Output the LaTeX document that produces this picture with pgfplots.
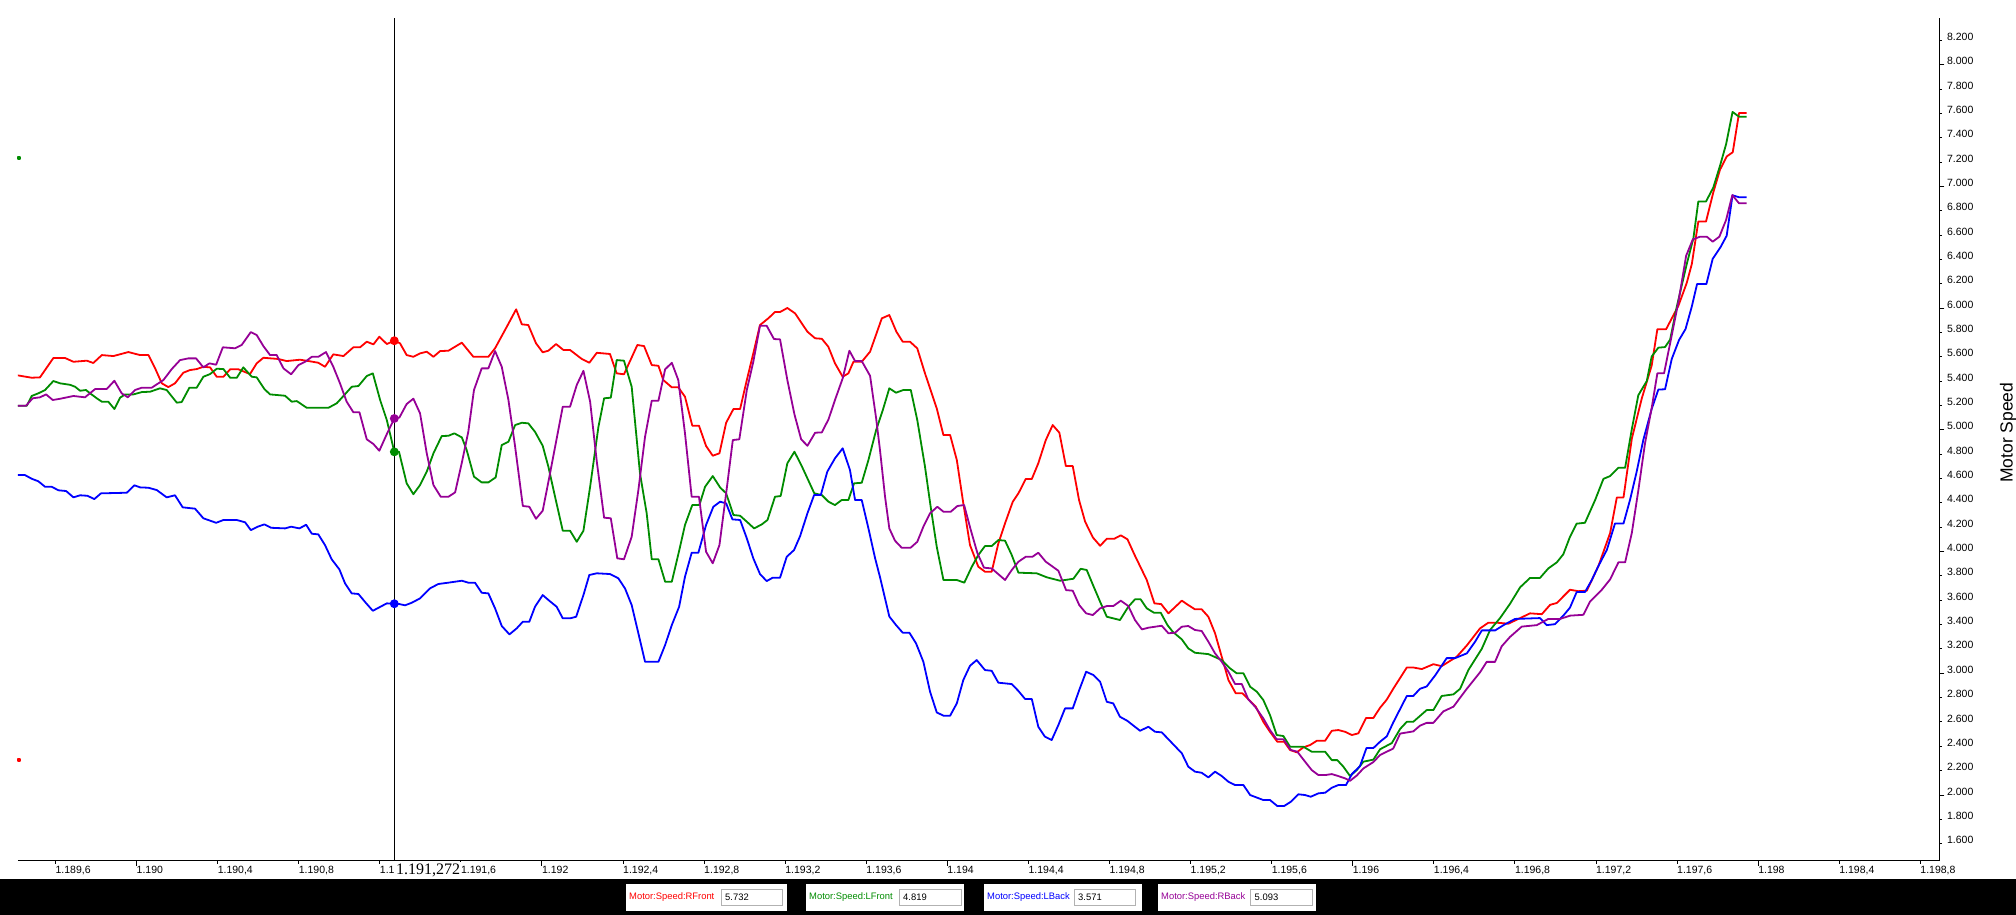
\documentclass[border=0pt]{standalone}
\usepackage{fontspec}
\setmainfont{Liberation Sans}
\newfontfamily\cursorfont{Liberation Serif}
\usepackage{pgfplots}
\pgfplotsset{compat=1.18}
\definecolor{cRed}{RGB}{255,0,0}
\definecolor{cGreen}{RGB}{0,140,0}
\definecolor{cBlue}{RGB}{0,0,255}
\definecolor{cPurple}{RGB}{150,0,150}
\begin{document}
\begin{tikzpicture}[x=1pt,y=1pt]
\useasboundingbox (0,0) rectangle (2016,915);
\fill[white] (0,0) rectangle (2016,915);
\begin{axis}[
  at={(17.9pt,54pt)}, anchor=south west, scale only axis,
  width=1921.4pt, height=843pt,
  xmin=1189.415, xmax=1198.894, ymin=1457, ymax=8384,
  axis x line=bottom, axis y line=right,
  every outer x axis line/.append style={-},
  every outer y axis line/.append style={-},
  every inner x axis line/.append style={-},
  every inner y axis line/.append style={-},
  axis line style={black, line width=1pt, -},
  tick align=outside, major tick length=2.6pt,
  tick style={black, line width=0.8pt},
  xtick={1189.6,1190,1190.4,1190.8,1191.2,1191.6,1192,1192.4,1192.8,1193.2,1193.6,1194,1194.4,1194.8,1195.2,1195.6,1196,1196.4,1196.8,1197.2,1197.6,1198,1198.4,1198.8},
  xticklabels={{1.189,6},{1.190},{1.190,4},{1.190,8},{1.191,2},{1.191,6},{1.192},{1.192,4},{1.192,8},{1.193,2},{1.193,6},{1.194},{1.194,4},{1.194,8},{1.195,2},{1.195,6},{1.196},{1.196,4},{1.196,8},{1.197,2},{1.197,6},{1.198},{1.198,4},{1.198,8}},
  ytick={1600,1800,2000,2200,2400,2600,2800,3000,3200,3400,3600,3800,4000,4200,4400,4600,4800,5000,5200,5400,5600,5800,6000,6200,6400,6600,6800,7000,7200,7400,7600,7800,8000,8200},
  yticklabels={1.600,1.800,2.000,2.200,2.400,2.600,2.800,3.000,3.200,3.400,3.600,3.800,4.000,4.200,4.400,4.600,4.800,5.000,5.200,5.400,5.600,5.800,6.000,6.200,6.400,6.600,6.800,7.000,7.200,7.400,7.600,7.800,8.000,8.200},
  extra x ticks={1190,1192,1194,1196,1198}, extra x tick labels={},
  extra x tick style={major tick length=5pt},
  extra y ticks={2000,3000,4000,5000,6000,7000,8000}, extra y tick labels={},
  extra y tick style={major tick length=5pt},
  ticklabel style={font=\fontsize{10.5}{12}\selectfont, text=black},
  xticklabel style={anchor=north west, inner sep=0pt, yshift=-2pt},
  yticklabel style={anchor=west, inner sep=0pt, xshift=5pt, yshift=3.5pt},
  every axis plot/.append style={line width=1.8pt, line join=round},
]
\addplot[cRed, mark=none] coordinates {(1189.412,5448)(1189.483,5428)(1189.524,5431)(1189.590,5590)(1189.648,5590)(1189.689,5559)(1189.755,5568)(1189.787,5549)(1189.829,5614)(1189.886,5606)(1189.960,5639)(1190.018,5614)(1190.059,5614)(1190.092,5505)(1190.125,5382)(1190.157,5351)(1190.190,5382)(1190.231,5469)(1190.264,5491)(1190.297,5499)(1190.330,5518)(1190.363,5513)(1190.396,5436)(1190.429,5436)(1190.462,5497)(1190.503,5497)(1190.560,5458)(1190.593,5546)(1190.626,5592)(1190.700,5582)(1190.741,5565)(1190.807,5576)(1190.856,5563)(1190.897,5551)(1190.930,5518)(1190.971,5620)(1191.021,5606)(1191.070,5678)(1191.103,5678)(1191.136,5724)(1191.169,5702)(1191.198,5765)(1191.235,5705)(1191.272,5732)(1191.300,5711)(1191.333,5614)(1191.366,5600)(1191.399,5628)(1191.432,5642)(1191.465,5600)(1191.498,5647)(1191.539,5650)(1191.605,5716)(1191.662,5600)(1191.736,5600)(1191.769,5670)(1191.827,5847)(1191.873,5990)(1191.901,5867)(1191.933,5861)(1191.971,5711)(1192.004,5637)(1192.032,5650)(1192.070,5705)(1192.106,5656)(1192.139,5656)(1192.197,5582)(1192.234,5551)(1192.271,5633)(1192.336,5623)(1192.369,5464)(1192.405,5456)(1192.471,5697)(1192.504,5688)(1192.542,5532)(1192.575,5526)(1192.599,5409)(1192.641,5349)(1192.673,5349)(1192.706,5272)(1192.742,5034)(1192.775,5034)(1192.810,4867)(1192.843,4787)(1192.876,4807)(1192.909,5058)(1192.945,5171)(1192.978,5171)(1193.011,5409)(1193.043,5628)(1193.076,5861)(1193.117,5916)(1193.150,5968)(1193.175,5968)(1193.211,6001)(1193.249,5957)(1193.310,5806)(1193.348,5752)(1193.381,5748)(1193.413,5683)(1193.446,5546)(1193.484,5436)(1193.512,5464)(1193.537,5559)(1193.578,5559)(1193.619,5642)(1193.677,5916)(1193.714,5943)(1193.749,5806)(1193.780,5724)(1193.816,5724)(1193.852,5669)(1193.890,5464)(1193.948,5176)(1193.981,4957)(1194.014,4957)(1194.047,4752)(1194.079,4396)(1194.112,4053)(1194.153,3875)(1194.186,3834)(1194.219,3834)(1194.252,4067)(1194.285,4232)(1194.323,4409)(1194.351,4478)(1194.387,4596)(1194.417,4596)(1194.449,4725)(1194.486,4916)(1194.520,5039)(1194.553,4976)(1194.585,4702)(1194.619,4702)(1194.650,4423)(1194.680,4245)(1194.718,4116)(1194.754,4047)(1194.787,4105)(1194.824,4105)(1194.856,4133)(1194.889,4100)(1194.922,3979)(1194.984,3766)(1195.022,3574)(1195.055,3568)(1195.091,3492)(1195.157,3596)(1195.189,3560)(1195.222,3525)(1195.255,3525)(1195.288,3464)(1195.321,3328)(1195.354,3135)(1195.387,2944)(1195.423,2835)(1195.456,2835)(1195.489,2780)(1195.522,2724)(1195.559,2601)(1195.592,2519)(1195.628,2437)(1195.662,2437)(1195.691,2369)(1195.724,2350)(1195.757,2391)(1195.790,2410)(1195.823,2445)(1195.864,2445)(1195.897,2527)(1195.929,2533)(1195.962,2519)(1195.996,2492)(1196.028,2506)(1196.066,2632)(1196.102,2632)(1196.135,2716)(1196.168,2783)(1196.200,2872)(1196.267,3047)(1196.299,3047)(1196.341,3034)(1196.398,3074)(1196.439,3058)(1196.513,3135)(1196.563,3228)(1196.628,3368)(1196.669,3415)(1196.711,3415)(1196.768,3407)(1196.826,3453)(1196.875,3492)(1196.933,3485)(1196.974,3562)(1197.007,3577)(1197.072,3686)(1197.113,3674)(1197.155,3678)(1197.212,3880)(1197.270,4152)(1197.303,4444)(1197.336,4444)(1197.377,4927)(1197.426,5257)(1197.475,5528)(1197.503,5826)(1197.546,5826)(1197.607,6020)(1197.648,6207)(1197.673,6362)(1197.705,6711)(1197.743,6711)(1197.779,6951)(1197.812,7137)(1197.845,7246)(1197.875,7281)(1197.906,7603)(1197.944,7603)};
\addplot[cGreen, mark=none] coordinates {(1189.412,5198)(1189.459,5198)(1189.483,5278)(1189.516,5300)(1189.549,5327)(1189.590,5401)(1189.623,5382)(1189.672,5370)(1189.697,5354)(1189.722,5321)(1189.751,5327)(1189.771,5300)(1189.804,5259)(1189.829,5231)(1189.861,5231)(1189.891,5171)(1189.919,5264)(1189.944,5291)(1189.985,5291)(1190.026,5310)(1190.067,5313)(1190.116,5341)(1190.149,5327)(1190.199,5223)(1190.223,5228)(1190.261,5346)(1190.297,5346)(1190.330,5436)(1190.363,5458)(1190.396,5502)(1190.429,5499)(1190.462,5428)(1190.495,5428)(1190.527,5513)(1190.569,5436)(1190.593,5431)(1190.631,5335)(1190.659,5291)(1190.733,5280)(1190.766,5231)(1190.791,5236)(1190.840,5181)(1190.947,5181)(1190.988,5218)(1191.021,5278)(1191.062,5354)(1191.095,5360)(1191.136,5442)(1191.166,5464)(1191.202,5245)(1191.235,5080)(1191.272,4819)(1191.295,4820)(1191.333,4560)(1191.366,4471)(1191.399,4546)(1191.432,4656)(1191.465,4807)(1191.506,4949)(1191.539,4951)(1191.568,4971)(1191.605,4938)(1191.629,4834)(1191.665,4615)(1191.703,4568)(1191.736,4568)(1191.772,4609)(1191.802,4875)(1191.835,4902)(1191.868,5039)(1191.901,5058)(1191.933,5053)(1191.966,4984)(1192.004,4869)(1192.032,4697)(1192.065,4450)(1192.103,4171)(1192.139,4171)(1192.172,4080)(1192.205,4171)(1192.238,4532)(1192.279,5025)(1192.307,5259)(1192.340,5264)(1192.369,5573)(1192.405,5568)(1192.443,5354)(1192.484,4642)(1192.517,4314)(1192.542,3936)(1192.575,3936)(1192.608,3752)(1192.641,3752)(1192.678,4012)(1192.706,4218)(1192.742,4382)(1192.777,4382)(1192.805,4532)(1192.843,4620)(1192.879,4527)(1192.909,4478)(1192.945,4300)(1192.978,4294)(1193.011,4245)(1193.047,4190)(1193.085,4223)(1193.113,4259)(1193.150,4450)(1193.178,4456)(1193.211,4725)(1193.246,4820)(1193.282,4702)(1193.344,4478)(1193.381,4464)(1193.414,4409)(1193.446,4382)(1193.479,4423)(1193.512,4423)(1193.540,4560)(1193.578,4565)(1193.611,4752)(1193.649,4998)(1193.682,5163)(1193.714,5341)(1193.747,5305)(1193.783,5327)(1193.820,5327)(1193.852,5080)(1193.890,4697)(1193.918,4368)(1193.948,4039)(1193.981,3766)(1194.047,3766)(1194.084,3744)(1194.121,3875)(1194.153,3971)(1194.186,4045)(1194.219,4045)(1194.252,4094)(1194.285,4089)(1194.318,3971)(1194.351,3826)(1194.441,3821)(1194.491,3788)(1194.556,3760)(1194.622,3776)(1194.658,3858)(1194.688,3848)(1194.721,3716)(1194.754,3587)(1194.787,3464)(1194.852,3437)(1194.893,3546)(1194.926,3607)(1194.954,3607)(1194.984,3533)(1195.020,3497)(1195.053,3497)(1195.086,3396)(1195.112,3341)(1195.157,3278)(1195.189,3204)(1195.222,3168)(1195.288,3157)(1195.354,3108)(1195.395,3040)(1195.428,2999)(1195.461,2999)(1195.494,2889)(1195.527,2848)(1195.559,2780)(1195.592,2656)(1195.625,2492)(1195.658,2484)(1195.691,2396)(1195.757,2396)(1195.798,2355)(1195.864,2355)(1195.897,2286)(1195.924,2286)(1195.954,2232)(1195.987,2155)(1196.020,2204)(1196.053,2273)(1196.102,2290)(1196.135,2375)(1196.193,2426)(1196.234,2542)(1196.267,2601)(1196.299,2601)(1196.365,2697)(1196.398,2697)(1196.439,2813)(1196.497,2826)(1196.530,2872)(1196.571,3027)(1196.637,3201)(1196.678,3356)(1196.727,3453)(1196.776,3570)(1196.826,3706)(1196.875,3783)(1196.924,3783)(1196.965,3861)(1197.007,3911)(1197.039,3977)(1197.072,4121)(1197.105,4229)(1197.146,4236)(1197.196,4423)(1197.237,4597)(1197.270,4620)(1197.311,4688)(1197.344,4688)(1197.377,5005)(1197.409,5284)(1197.451,5401)(1197.475,5603)(1197.508,5675)(1197.541,5680)(1197.566,5741)(1197.599,6013)(1197.648,6362)(1197.681,6575)(1197.705,6876)(1197.743,6876)(1197.779,6991)(1197.812,7169)(1197.842,7346)(1197.874,7612)(1197.906,7573)(1197.944,7573)};
\addplot[cBlue, mark=none] coordinates {(1189.412,4628)(1189.450,4628)(1189.483,4598)(1189.516,4577)(1189.549,4532)(1189.582,4532)(1189.615,4503)(1189.653,4497)(1189.689,4445)(1189.722,4462)(1189.758,4458)(1189.792,4431)(1189.825,4478)(1189.952,4483)(1189.990,4544)(1190.018,4527)(1190.059,4524)(1190.100,4505)(1190.149,4445)(1190.190,4462)(1190.228,4363)(1190.289,4352)(1190.330,4273)(1190.393,4236)(1190.429,4259)(1190.495,4259)(1190.536,4240)(1190.564,4176)(1190.598,4204)(1190.631,4223)(1190.664,4195)(1190.733,4190)(1190.763,4204)(1190.804,4190)(1190.837,4220)(1190.865,4146)(1190.897,4141)(1190.930,4053)(1190.963,3936)(1191.001,3853)(1191.029,3738)(1191.062,3656)(1191.095,3651)(1191.131,3579)(1191.166,3513)(1191.235,3574)(1191.272,3571)(1191.297,3568)(1191.325,3558)(1191.358,3579)(1191.399,3615)(1191.448,3697)(1191.489,3733)(1191.539,3744)(1191.605,3760)(1191.637,3744)(1191.670,3744)(1191.703,3661)(1191.736,3656)(1191.769,3533)(1191.802,3388)(1191.840,3319)(1191.876,3369)(1191.906,3423)(1191.938,3423)(1191.966,3546)(1192.004,3642)(1192.037,3595)(1192.073,3546)(1192.103,3451)(1192.139,3451)(1192.169,3464)(1192.205,3642)(1192.234,3807)(1192.271,3821)(1192.336,3815)(1192.377,3780)(1192.410,3697)(1192.443,3560)(1192.476,3328)(1192.509,3094)(1192.575,3094)(1192.608,3232)(1192.641,3396)(1192.677,3546)(1192.706,3793)(1192.739,3990)(1192.772,3990)(1192.810,4218)(1192.846,4368)(1192.879,4409)(1192.909,4396)(1192.940,4264)(1192.978,4259)(1193.011,4108)(1193.043,3944)(1193.076,3815)(1193.109,3757)(1193.139,3785)(1193.175,3785)(1193.208,3957)(1193.244,4012)(1193.274,4127)(1193.310,4314)(1193.343,4464)(1193.376,4464)(1193.408,4656)(1193.446,4766)(1193.484,4848)(1193.520,4669)(1193.545,4423)(1193.578,4423)(1193.611,4190)(1193.644,3944)(1193.668,3790)(1193.714,3466)(1193.747,3396)(1193.780,3333)(1193.813,3333)(1193.846,3245)(1193.882,3094)(1193.915,2848)(1193.948,2678)(1193.981,2651)(1194.014,2651)(1194.047,2752)(1194.079,2944)(1194.112,3061)(1194.145,3108)(1194.186,3026)(1194.219,3020)(1194.252,2922)(1194.318,2911)(1194.351,2854)(1194.384,2788)(1194.417,2788)(1194.449,2560)(1194.482,2478)(1194.515,2451)(1194.548,2574)(1194.581,2711)(1194.619,2711)(1194.651,2862)(1194.685,3012)(1194.721,2985)(1194.754,2930)(1194.787,2765)(1194.819,2752)(1194.852,2642)(1194.888,2609)(1194.951,2527)(1194.992,2560)(1195.025,2519)(1195.058,2514)(1195.091,2457)(1195.157,2342)(1195.189,2232)(1195.222,2191)(1195.255,2182)(1195.288,2144)(1195.321,2191)(1195.354,2155)(1195.387,2108)(1195.420,2081)(1195.461,2081)(1195.494,1999)(1195.559,1958)(1195.592,1958)(1195.628,1909)(1195.662,1909)(1195.695,1944)(1195.732,2005)(1195.765,1999)(1195.793,1985)(1195.831,2013)(1195.864,2018)(1195.897,2059)(1195.929,2081)(1195.967,2081)(1195.996,2171)(1196.036,2237)(1196.068,2385)(1196.102,2385)(1196.135,2437)(1196.168,2481)(1196.200,2595)(1196.267,2813)(1196.299,2813)(1196.332,2872)(1196.365,2891)(1196.406,2980)(1196.464,3124)(1196.505,3124)(1196.563,3163)(1196.604,3259)(1196.637,3352)(1196.703,3352)(1196.744,3395)(1196.801,3446)(1196.924,3453)(1196.957,3395)(1196.998,3403)(1197.039,3473)(1197.072,3539)(1197.105,3667)(1197.146,3667)(1197.179,3764)(1197.212,3880)(1197.254,4014)(1197.294,4230)(1197.336,4230)(1197.368,4423)(1197.401,4656)(1197.434,4919)(1197.475,5171)(1197.508,5331)(1197.541,5333)(1197.574,5582)(1197.610,5738)(1197.642,5828)(1197.673,6013)(1197.699,6198)(1197.745,6198)(1197.776,6405)(1197.815,6502)(1197.845,6595)(1197.874,6927)(1197.906,6911)(1197.944,6911)};
\addplot[cPurple, mark=none] coordinates {(1189.412,5198)(1189.455,5198)(1189.488,5259)(1189.524,5267)(1189.554,5291)(1189.587,5245)(1189.623,5255)(1189.689,5278)(1189.746,5267)(1189.796,5335)(1189.853,5335)(1189.891,5403)(1189.927,5300)(1189.957,5267)(1189.993,5327)(1190.026,5346)(1190.075,5346)(1190.133,5409)(1190.174,5499)(1190.215,5573)(1190.256,5587)(1190.294,5587)(1190.330,5513)(1190.360,5546)(1190.393,5535)(1190.426,5678)(1190.486,5670)(1190.519,5697)(1190.564,5803)(1190.593,5779)(1190.626,5688)(1190.659,5614)(1190.692,5614)(1190.725,5505)(1190.763,5456)(1190.799,5532)(1190.832,5559)(1190.865,5600)(1190.897,5600)(1190.935,5639)(1190.971,5518)(1191.004,5382)(1191.037,5231)(1191.070,5144)(1191.100,5144)(1191.136,4922)(1191.169,4883)(1191.198,4828)(1191.235,4965)(1191.272,5093)(1191.297,5101)(1191.333,5212)(1191.366,5256)(1191.399,5135)(1191.432,4807)(1191.465,4546)(1191.501,4450)(1191.539,4450)(1191.572,4486)(1191.605,4729)(1191.637,4984)(1191.665,5327)(1191.703,5505)(1191.736,5505)(1191.769,5647)(1191.802,5518)(1191.835,5245)(1191.868,4861)(1191.906,4374)(1191.938,4368)(1191.971,4269)(1192.004,4335)(1192.037,4614)(1192.070,4902)(1192.103,5190)(1192.139,5190)(1192.172,5368)(1192.205,5485)(1192.238,5231)(1192.271,4738)(1192.307,4278)(1192.340,4273)(1192.372,3944)(1192.405,3936)(1192.443,4121)(1192.476,4505)(1192.509,4943)(1192.542,5239)(1192.575,5239)(1192.608,5497)(1192.641,5551)(1192.673,5409)(1192.706,4971)(1192.739,4450)(1192.775,4450)(1192.810,3998)(1192.843,3903)(1192.876,4053)(1192.909,4478)(1192.942,4916)(1192.974,4922)(1193.011,5327)(1193.043,5559)(1193.076,5855)(1193.109,5855)(1193.145,5746)(1193.175,5743)(1193.211,5409)(1193.246,5127)(1193.279,4922)(1193.310,4869)(1193.348,4976)(1193.381,4979)(1193.414,5086)(1193.446,5245)(1193.484,5423)(1193.517,5650)(1193.545,5565)(1193.578,5565)(1193.619,5444)(1193.649,5094)(1193.668,4834)(1193.693,4450)(1193.714,4190)(1193.742,4089)(1193.775,4031)(1193.819,4031)(1193.852,4080)(1193.882,4204)(1193.915,4314)(1193.951,4368)(1193.981,4327)(1194.017,4327)(1194.050,4374)(1194.083,4382)(1194.116,4176)(1194.149,3985)(1194.181,3867)(1194.219,3861)(1194.285,3766)(1194.318,3848)(1194.351,3916)(1194.387,3957)(1194.420,3957)(1194.449,3990)(1194.486,3916)(1194.548,3842)(1194.586,3683)(1194.619,3678)(1194.651,3560)(1194.685,3492)(1194.718,3478)(1194.754,3533)(1194.787,3552)(1194.819,3552)(1194.856,3596)(1194.893,3552)(1194.926,3437)(1194.960,3360)(1194.992,3374)(1195.058,3390)(1195.091,3328)(1195.124,3333)(1195.157,3382)(1195.189,3388)(1195.222,3355)(1195.255,3347)(1195.288,3259)(1195.321,3163)(1195.354,3094)(1195.387,3012)(1195.420,2911)(1195.453,2911)(1195.485,2785)(1195.519,2724)(1195.559,2629)(1195.592,2533)(1195.625,2457)(1195.658,2457)(1195.695,2369)(1195.727,2355)(1195.765,2273)(1195.798,2204)(1195.831,2163)(1195.864,2163)(1195.897,2171)(1195.929,2155)(1195.962,2136)(1195.987,2116)(1196.020,2159)(1196.053,2218)(1196.102,2270)(1196.135,2328)(1196.200,2381)(1196.234,2504)(1196.299,2522)(1196.332,2569)(1196.365,2592)(1196.398,2592)(1196.447,2686)(1196.497,2725)(1196.563,2872)(1196.628,3007)(1196.661,3093)(1196.702,3093)(1196.735,3221)(1196.776,3298)(1196.834,3383)(1196.908,3395)(1196.965,3446)(1197.023,3446)(1197.072,3473)(1197.138,3480)(1197.171,3589)(1197.229,3686)(1197.270,3771)(1197.311,3911)(1197.344,3911)(1197.377,4152)(1197.409,4500)(1197.442,4888)(1197.475,5179)(1197.503,5464)(1197.536,5464)(1197.566,5711)(1197.607,6052)(1197.645,6430)(1197.678,6565)(1197.714,6587)(1197.747,6587)(1197.776,6546)(1197.809,6587)(1197.842,6724)(1197.873,6929)(1197.906,6861)(1197.944,6861)};
% tiny marks at the left edge
\addplot[only marks, mark=square*, mark size=0.8pt, cGreen] coordinates {(1189.42,7233)};
\addplot[only marks, mark=square*, mark size=0.8pt, cRed] coordinates {(1189.42,2286)};
% cursor
\draw[black, line width=1pt] (axis cs:1191.272,1457) -- (axis cs:1191.272,8384);
\addplot[only marks, mark=*, mark size=3.5pt, cRed] coordinates {(1191.272,5732)};
\addplot[only marks, mark=*, mark size=3.5pt, cGreen] coordinates {(1191.272,4819)};
\addplot[only marks, mark=*, mark size=3.5pt, cBlue] coordinates {(1191.272,3571)};
\addplot[only marks, mark=*, mark size=3.5pt, cPurple] coordinates {(1191.272,5093)};
\end{axis}
% cursor label
\node[fill=white, anchor=north west, inner xsep=1pt, inner ysep=2pt, font=\cursorfont\fontsize{16}{16}\selectfont] at (395,53) {1.191,272};
% y axis title
\node[rotate=90, inner sep=0pt, font=\fontsize{17.5}{18}\selectfont] at (2008,482.3) {Motor Speed};
% bottom bar with value boxes
\fill[black] (0,0) rectangle (2016,36);
\begin{scope}[every node/.style={anchor=west, inner sep=0pt, font=\fontsize{9.4}{10}\selectfont}]
\fill[white] (625.5,4.3) rectangle (787.2,30.7);
\draw[fill=white, draw=black!30] (721,9.3) rectangle (782.6,26);
\node[text=cRed] at (629,17.5) {Motor:Speed:RFront};
\node at (725,17.5) {5.732};
\fill[white] (805.6,4.3) rectangle (964.3,30.7);
\draw[fill=white, draw=black!30] (899,9.3) rectangle (961,26);
\node[text=cGreen] at (809,17.5) {Motor:Speed:LFront};
\node at (903,17.5) {4.819};
\fill[white] (983.7,4.3) rectangle (1141.8,30.7);
\draw[fill=white, draw=black!30] (1074,9.3) rectangle (1134.7,26);
\node[text=cBlue] at (987,17.5) {Motor:Speed:LBack};
\node at (1078,17.5) {3.571};
\fill[white] (1157.7,4.3) rectangle (1315.8,30.7);
\draw[fill=white, draw=black!30] (1250.5,9.3) rectangle (1311.7,26);
\node[text=cPurple] at (1161,17.5) {Motor:Speed:RBack};
\node at (1254.5,17.5) {5.093};
\end{scope}
\end{tikzpicture}
\end{document}
